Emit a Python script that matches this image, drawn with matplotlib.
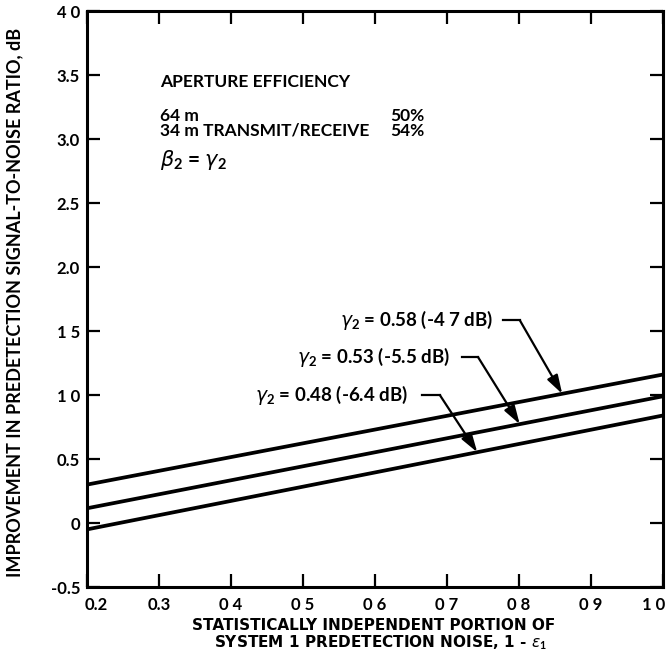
import matplotlib
matplotlib.use("Agg")
import matplotlib.pyplot as plt
import matplotlib.transforms as mtransforms
import numpy as np

plt.rcParams['font.family'] = ['Lato', 'DejaVu Sans']
plt.rcParams['mathtext.fontset'] = 'custom'
plt.rcParams['mathtext.rm'] = 'Lato:bold'
plt.rcParams['mathtext.it'] = 'DejaVu Sans:italic:weight=normal'
plt.rcParams['mathtext.bf'] = 'Lato:bold'

# Data
x_vals = [0.2, 1.0]
curve_labels = ["0.58 (-4 7 dB)", "0.53 (-5.5 dB)", "0.48 (-6.4 dB)"]
y_058 = [0.30, 1.16]
y_053 = [0.115, 0.99]
y_048 = [-0.05, 0.84]

x_ticks = [0.2, 0.3, 0.4, 0.5, 0.6, 0.7, 0.8, 0.9, 1.0]
x_ticklabels = ["0.2", "0.3", "0 4", "0 5", "0 6", "0 7", "0 8", "0 9", "1 0"]
y_ticks = [-0.5, 0, 0.5, 1.0, 1.5, 2.0, 2.5, 3.0, 3.5, 4.0]
y_ticklabels = ["-0.5", "0", "0.5", "1 0", "1 5", "2.0", "2.5", "3.0", "3.5", "4 0"]

W, H = 668, 662
L, R, T, B = 87, 663, 11, 587
fig = plt.figure(figsize=(W/100, H/100), dpi=100)
ax = fig.add_axes([L/W, 1-B/H, (R-L)/W, (B-T)/H])

for ys in (y_058, y_053, y_048):
    ax.plot(x_vals, ys, color='black', lw=2.7, solid_capstyle='butt')

ax.set_xlim(0.2, 1.0)
ax.set_ylim(-0.5, 4.0)
ax.set_xticks(x_ticks)
ax.set_xticklabels(x_ticklabels, fontweight='bold')
ax.set_yticks(y_ticks)
ax.set_yticklabels(y_ticklabels, fontweight='bold')
ax.tick_params(direction='in', length=9.5, width=1.6, top=True, right=True,
               labelsize=12)
ax.tick_params(axis='x', pad=7)
ax.tick_params(axis='y', pad=5)
for s in ax.spines.values():
    s.set_linewidth(2.2)

# nudge first / last x tick labels inside like the reference
xl = ax.get_xticklabels()
xl[0].set_transform(xl[0].get_transform() + mtransforms.ScaledTranslation(9/100, 0, fig.dpi_scale_trans))
xl[-1].set_transform(xl[-1].get_transform() + mtransforms.ScaledTranslation(-9/100, 0, fig.dpi_scale_trans))

# axis titles
fig.text(15/W, 1-302/H, "IMPROVEMENT IN PREDETECTION SIGNAL-TO-NOISE RATIO, dB",
         rotation=90, ha='center', va='center', fontsize=13, fontweight='bold')
xfont = dict(family='DejaVu Sans', fontweight='bold', fontsize=11, ha='center', va='center')
fig.text(374/W, 1-626/H, "STATISTICALLY INDEPENDENT PORTION OF", **xfont)
fig.text(380/W, 1-643/H, "SYSTEM 1 PREDETECTION NOISE, 1 - $\\epsilon_1$", **xfont)

def fxy(px, py):
    return (px/W, 1-py/H)
tf = dict(fontsize=12.5, fontweight='bold', va='center')
fig.text(*fxy(160, 82), "APERTURE EFFICIENCY", **tf)
fig.text(*fxy(160, 116), "64 m", **tf)
fig.text(*fxy(160, 131), "34 m TRANSMIT/RECEIVE", **tf)
fig.text(*fxy(390, 116), "50%", **tf)
fig.text(*fxy(390, 131), "54%", **tf)
fig.text(*fxy(160, 160), "$\\beta_2$ = $\\gamma_2$", fontsize=15, fontweight='bold', va='center')

# annotations: text start x, y, line start x, elbow x, arrow tip x
ann = [
    (curve_labels[0], 0.551, 1.585, 0.778, 0.801, 0.860, y_058),
    (curve_labels[1], 0.492, 1.297, 0.721, 0.743, 0.801, y_053),
    (curve_labels[2], 0.433, 1.000, 0.665, 0.690, 0.742, y_048),
]
for lab, tx, ty, xs, xe, xt, ys in ann:
    ax.text(tx, ty, "$\\gamma_2$ = " + lab, fontsize=13.5, fontweight='bold',
            va='center', ha='left')
    yt = np.interp(xt, x_vals, ys)
    ax.plot([xs, xe], [ty, ty], color='black', lw=1.6)
    ax.annotate("", xy=(xt, yt), xytext=(xe, ty),
                arrowprops=dict(arrowstyle='-|>,head_length=0.8,head_width=0.25',
                                color='black', lw=1.6,
                                mutation_scale=14, shrinkA=0, shrinkB=0))

fig.savefig("out.png", dpi=100)
